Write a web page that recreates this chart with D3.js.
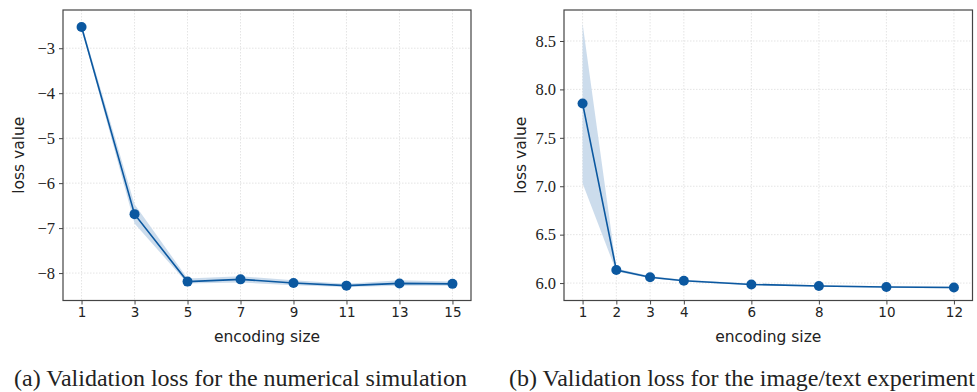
<!DOCTYPE html>
<html>
<head>
<meta charset="utf-8">
<script src="https://cdn.jsdelivr.net/npm/d3@7"></script>
<style>
body { margin: 0; background: #fff; }
svg text { fill: #222; }
</style>
</head>
<body>
<svg id="chart" width="977" height="392"></svg>
<script>
// panel (a): numerical simulation
var sizesA = [1, 3, 5, 7, 9, 11, 13, 15];
var meanA = [-2.53, -6.69, -8.19, -8.14, -8.22, -8.28, -8.23, -8.24];
var lowA = [-2.56, -6.90, -8.23, -8.21, -8.27, -8.31, -8.28, -8.28];
var highA = [-2.46, -6.47, -8.12, -8.07, -8.16, -8.24, -8.16, -8.19];
var xTicksA = [1, 3, 5, 7, 9, 11, 13, 15];
var yTicksA = [-3, -4, -5, -6, -7, -8];

// panel (b): image/text experiment
var sizesB = [1, 2, 3, 4, 6, 8, 10, 12];
var meanB = [7.855, 6.135, 6.06, 6.024, 5.986, 5.97, 5.96, 5.955];
var lowB = [7.03, 6.12, 6.05, 6.015, 5.978, 5.962, 5.952, 5.945];
var highB = [8.68, 6.15, 6.072, 6.034, 5.995, 5.978, 5.968, 5.965];
var xTicksB = [1, 2, 3, 4, 6, 8, 10, 12];
var yTicksB = [6.0, 6.5, 7.0, 7.5, 8.0, 8.5];

var captions = ["(a) Validation loss for the numerical simulation",
                "(b) Validation loss for the image/text experiment"];

var svg = d3.select("#chart");
var lineColor = "#0b58a0";

function panel(opt) {
    var g = svg.append("g");
    var x = d3.scaleLinear().domain(opt.xdom).range([opt.left, opt.right]);
    var y = d3.scaleLinear().domain(opt.ydom).range([opt.bottom, opt.top]);

    // grid
    g.selectAll(".gx").data(opt.xticks).enter().append("line")
        .attr("x1", d => x(d)).attr("x2", d => x(d))
        .attr("y1", opt.top).attr("y2", opt.bottom)
        .attr("stroke", "#ddd").attr("stroke-width", 0.8).attr("stroke-dasharray", "1.5,1.5");
    g.selectAll(".gy").data(opt.yticks).enter().append("line")
        .attr("y1", d => y(d)).attr("y2", d => y(d))
        .attr("x1", opt.left).attr("x2", opt.right)
        .attr("stroke", "#ddd").attr("stroke-width", 0.8).attr("stroke-dasharray", "1.5,1.5");

    var pts = opt.xs.map((d, i) => ({x: d, m: opt.mean[i], lo: opt.low[i], hi: opt.high[i]}));

    // std band
    g.append("path").datum(pts)
        .attr("d", d3.area().x(d => x(d.x)).y0(d => y(d.lo)).y1(d => y(d.hi)))
        .attr("fill", "#c6d8ea").attr("fill-opacity", 0.9);

    g.append("path").datum(pts)
        .attr("d", d3.line().x(d => x(d.x)).y(d => y(d.m)))
        .attr("fill", "none").attr("stroke", lineColor).attr("stroke-width", 1.6);

    g.selectAll("circle").data(pts).enter().append("circle")
        .attr("cx", d => x(d.x)).attr("cy", d => y(d.m)).attr("r", 5)
        .attr("fill", lineColor);

    // frame
    g.append("rect").attr("x", opt.left).attr("y", opt.top)
        .attr("width", opt.right - opt.left).attr("height", opt.bottom - opt.top)
        .attr("fill", "none").attr("stroke", "#444").attr("stroke-width", 1.2);

    var xa = g.append("g").attr("transform", "translate(0," + opt.bottom + ")")
        .call(d3.axisBottom(x).tickValues(opt.xticks).tickSize(4).tickPadding(3).tickFormat(d3.format("d")));
    xa.select(".domain").remove();
    xa.selectAll("line").attr("stroke", "#444");
    xa.selectAll("text").attr("font-family", "'DejaVu Sans', sans-serif").attr("font-size", 13.5).attr("fill", "#222");

    var ya = g.append("g").attr("transform", "translate(" + opt.left + ",0)")
        .call(d3.axisLeft(y).tickValues(opt.yticks).tickSize(4).tickPadding(4).tickFormat(opt.yfmt));
    ya.select(".domain").remove();
    ya.selectAll("line").attr("stroke", "#444");
    ya.selectAll("text").attr("font-family", "'Liberation Serif', serif").attr("font-size", 16.5).attr("fill", "#222");

    g.append("text").attr("x", (opt.left + opt.right) / 2).attr("y", opt.bottom + 41)
        .attr("text-anchor", "middle").attr("font-family", "'DejaVu Sans', sans-serif")
        .attr("font-size", 15.5).text("encoding size");
    g.append("text").attr("transform", "translate(" + opt.ylabx + "," + (opt.top + opt.bottom) / 2 + ") rotate(-90)")
        .attr("text-anchor", "middle").attr("font-family", "'DejaVu Sans', sans-serif")
        .attr("font-size", 15.5).text("loss value");

    g.append("text").attr("x", opt.capx).attr("y", 386)
        .attr("text-anchor", "middle").attr("font-family", "'Liberation Serif', 'Times New Roman', serif")
        .attr("font-size", 24).text(opt.caption);
}

var minus = d => (d < 0 ? "\u2212" + Math.abs(d) : d);

panel({
    xs: sizesA, mean: meanA, low: lowA, high: highA,
    xticks: xTicksA, yticks: yTicksA,
    xdom: [0.3, 15.7], ydom: [-8.61, -2.15],
    left: 63, right: 471, top: 10, bottom: 300.5,
    yfmt: minus, ylabx: 24, capx: 240.5, caption: captions[0]
});

panel({
    xs: sizesB, mean: meanB, low: lowB, high: highB,
    xticks: xTicksB, yticks: yTicksB,
    xdom: [0.45, 12.55], ydom: [5.82, 8.82],
    left: 564, right: 972.5, top: 10, bottom: 300.5,
    yfmt: d3.format(".1f"), ylabx: 526, capx: 742, caption: captions[1]
});
</script>
</body>
</html>
